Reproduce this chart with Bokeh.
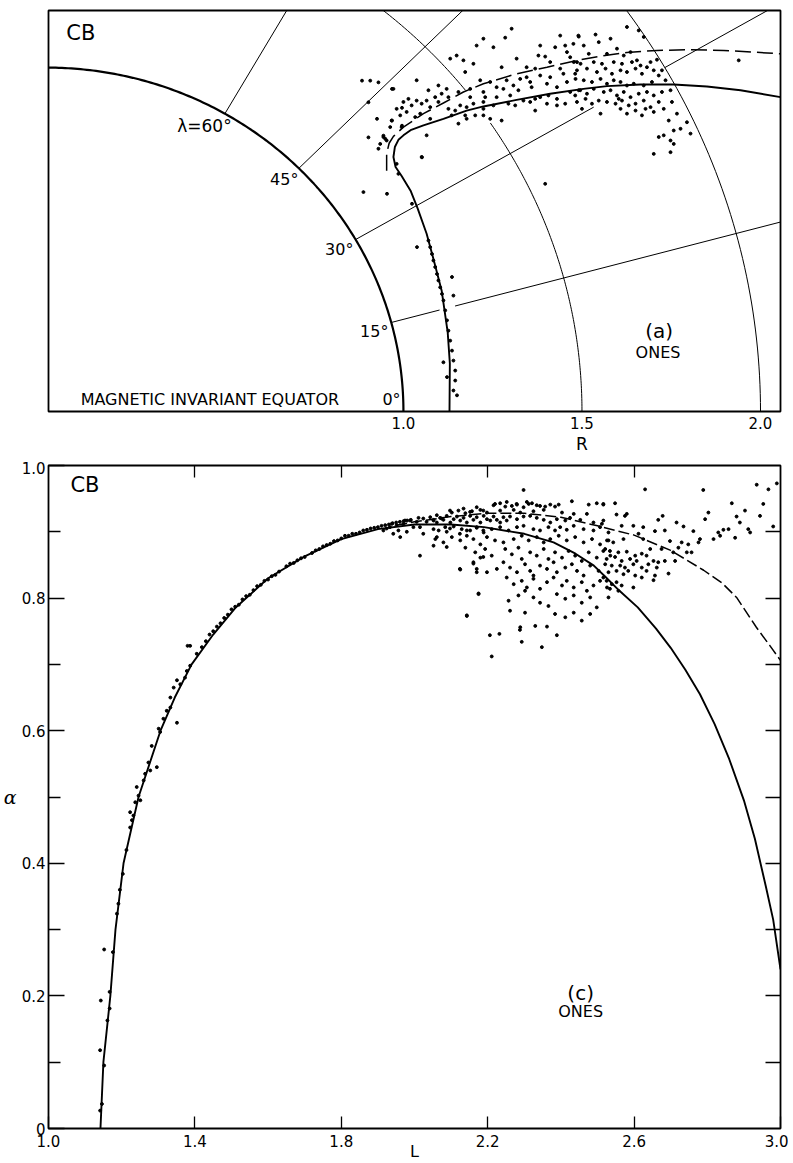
import numpy as np
from bokeh.plotting import figure
from bokeh.models import Range1d, FixedTicker, LinearAxis, Label, PrintfTickFormatter
from bokeh.layouts import column
from bokeh.embed import file_html
from bokeh.resources import INLINE

FONT = "DejaVu Sans"

# ---------------- panel (a): meridian plane, R ----------------
r_ticks = [1.0, 1.5, 2.0]
r_label_at = 1.5
earth_r = 1.0
shell_r = [1.5, 2.0]
shell_gaps = {1.5: [(0.0, 34.0), (38.5, 90.0)], 2.0: [(0.0, 90.0)]}
lat_deg = [15, 30, 45, 60]
lat_segments = {15: [(1.0, 1.14), (1.185, 2.6)], 30: [(1.0, 1.77), (2.0, 2.6)],
                45: [(1.0, 2.6)], 60: [(1.0, 2.6)]}

a_solid_x = [1.129, 1.130, 1.124, 1.107, 1.085, 1.065, 1.040, 1.020, 0.995, 0.978, 0.972,
             0.976, 0.986, 1.000, 1.020, 1.056, 1.112, 1.177, 1.224, 1.317, 1.411, 1.504,
             1.570, 1.664, 1.757, 1.850, 1.944, 2.056]
a_solid_z = [0.000, 0.140, 0.230, 0.352, 0.440, 0.517, 0.590, 0.642, 0.685, 0.711, 0.740,
             0.769, 0.790, 0.803, 0.818, 0.832, 0.851, 0.875, 0.887, 0.906, 0.924, 0.938,
             0.946, 0.951, 0.951, 0.945, 0.934, 0.914]
a_dash_x = [0.953, 0.953, 0.960, 0.972, 1.000, 1.056, 1.112, 1.168, 1.224, 1.317, 1.402,
            1.486, 1.552, 1.626, 1.710, 1.804, 1.897, 1.981, 2.056]
a_dash_z = [0.700, 0.750, 0.780, 0.800, 0.827, 0.866, 0.897, 0.929, 0.953, 0.982, 1.001,
            1.021, 1.033, 1.044, 1.050, 1.052, 1.050, 1.045, 1.040]

a_points = [
    (0.884, 0.962), (0.907, 0.962), (0.930, 0.957), (0.968, 0.938), (0.902, 0.899), (0.996, 0.883),
    (0.926, 0.851), (0.968, 0.846), (0.996, 0.831), (0.902, 0.797), (0.944, 0.802), (0.935, 0.778),
    (0.930, 0.764), (0.949, 0.793), (0.888, 0.638), (0.954, 0.633), (0.986, 0.691),
    (1.303, 1.113), (1.439, 1.093), (1.490, 1.093), (1.224, 1.084), (1.285, 1.087), (1.205, 1.064),
    (1.252, 1.059), (1.383, 1.064), (1.425, 1.059), (1.453, 1.064), (1.476, 1.069), (1.458, 1.045),
    (1.131, 1.026), (1.149, 1.035), (1.168, 1.021), (1.196, 1.011), (1.317, 1.026), (1.378, 1.035),
    (1.397, 1.032), (1.467, 1.030), (1.411, 1.016), (1.275, 1.001), (1.345, 1.001), (1.369, 0.997),
    (1.439, 0.997), (1.486, 1.016), (1.173, 0.987), (1.448, 0.982), (1.481, 0.982), (1.037, 0.963),
    (1.215, 0.963), (1.243, 0.958), (1.289, 0.963), (1.327, 0.967), (1.345, 0.972), (1.355, 0.958),
    (1.383, 0.977), (1.411, 0.972), (1.458, 0.958), (1.070, 0.934), (1.098, 0.948), (1.121, 0.938),
    (1.154, 0.929), (1.187, 0.938), (1.224, 0.929), (1.261, 0.943), (1.280, 0.938), (1.308, 0.948),
    (1.322, 0.934), (1.359, 0.943), (1.402, 0.953), (1.430, 0.943), (1.467, 0.929), (1.495, 0.934),
    (0.972, 0.938), (1.014, 0.909), (1.000, 0.900), (1.037, 0.904), (1.065, 0.904), (1.089, 0.914),
    (1.107, 0.924), (1.126, 0.914), (1.187, 0.914), (1.229, 0.914), (1.261, 0.914), (1.299, 0.919),
    (1.336, 0.904), (1.369, 0.909), (1.383, 0.914), (1.406, 0.919), (1.430, 0.909), (1.481, 0.919),
    (0.981, 0.880), (1.023, 0.890), (1.051, 0.895), (1.075, 0.885), (1.098, 0.900), (1.126, 0.880),
    (1.145, 0.875), (1.159, 0.890), (1.177, 0.885), (1.196, 0.895), (1.224, 0.880), (1.252, 0.890),
    (1.294, 0.895), (1.313, 0.890), (1.355, 0.900), (1.369, 0.875), (1.402, 0.895), (1.430, 0.890),
    (1.453, 0.895), (0.967, 0.846), (0.991, 0.861), (1.009, 0.871), (1.033, 0.856), (1.047, 0.866),
    (1.075, 0.851), (1.135, 0.861), (1.173, 0.861), (1.201, 0.861), (1.224, 0.861), (1.243, 0.851),
    (1.275, 0.846), (0.963, 0.827), (0.995, 0.827), (1.065, 0.803), (1.154, 0.837), (0.944, 0.798),
    (0.953, 0.788), (0.981, 0.720), (1.051, 0.740), (1.224, 0.900), (1.177, 0.851),
    (1.626, 1.118), (1.659, 1.108), (1.491, 1.090), (1.538, 1.096), (1.580, 1.084), (1.673, 1.089),
    (1.505, 1.064), (1.547, 1.074), (1.598, 1.055), (1.519, 1.040), (1.570, 1.040), (1.617, 1.035),
    (1.636, 1.045), (1.654, 1.021), (1.692, 1.016), (1.710, 1.023), (1.477, 1.016), (1.496, 1.011),
    (1.533, 1.016), (1.556, 1.011), (1.589, 1.016), (1.612, 1.011), (1.640, 1.016), (1.664, 1.006),
    (1.682, 1.001), (1.701, 0.992), (1.724, 0.992), (1.486, 0.992), (1.514, 0.997), (1.542, 0.987),
    (1.566, 0.997), (1.584, 0.982), (1.608, 0.992), (1.626, 0.987), (1.650, 0.997), (1.668, 0.982),
    (1.715, 0.977), (1.734, 0.963), (1.482, 0.967), (1.505, 0.963), (1.528, 0.958), (1.552, 0.967),
    (1.570, 0.953), (1.589, 0.963), (1.608, 0.958), (1.626, 0.948), (1.645, 0.953), (1.673, 0.948),
    (1.696, 0.958), (1.491, 0.934), (1.514, 0.924), (1.533, 0.938), (1.561, 0.929), (1.580, 0.934),
    (1.598, 0.919), (1.617, 0.929), (1.636, 0.914), (1.659, 0.924), (1.682, 0.929), (1.701, 0.919),
    (1.724, 0.929), (1.748, 0.934), (1.486, 0.900), (1.510, 0.909), (1.528, 0.895), (1.547, 0.904),
    (1.570, 0.900), (1.594, 0.895), (1.612, 0.904), (1.631, 0.890), (1.650, 0.895), (1.673, 0.904),
    (1.692, 0.885), (1.715, 0.900), (1.752, 0.900), (1.500, 0.880), (1.552, 0.866), (1.608, 0.880),
    (1.626, 0.866), (1.650, 0.875), (1.668, 0.861), (1.701, 0.871), (1.729, 0.880), (1.766, 0.866),
    (1.743, 0.846), (1.757, 0.817), (1.776, 0.822), (1.794, 0.841), (1.804, 0.808), (1.715, 0.798),
    (1.729, 0.803), (1.748, 0.788), (1.757, 0.778), (1.701, 0.749), (1.748, 0.754), (1.939, 1.021),
    (1.678, 0.880), (1.603, 0.909), (1.397, 0.662),
    (1.070, 0.497), (1.075, 0.478), (1.080, 0.458), (1.084, 0.439), (1.089, 0.420), (1.094, 0.400),
    (1.098, 0.381), (1.103, 0.361), (1.108, 0.342), (1.112, 0.323), (1.117, 0.294), (1.122, 0.265),
    (1.126, 0.235), (1.131, 0.206), (1.136, 0.177), (1.140, 0.148), (1.145, 0.119), (1.145, 0.090),
    (1.038, 0.478), (1.136, 0.391), (1.140, 0.337), (1.122, 0.100), (1.112, 0.143), (1.140, 0.061),
    (1.150, 0.047), (1.024, 0.604), (1.052, 0.739),
]

# ---------------- panel (c): alpha vs L ----------------
L_ticks = [1.0, 1.4, 1.8, 2.2, 2.6, 3.0]
L_inner_ticks = [1.4, 1.8, 2.2, 2.6]
a_major = [0.0, 0.2, 0.4, 0.6, 0.8, 1.0]
a_minor = [0.1, 0.3, 0.5, 0.7, 0.9]

c_solid_L = [1.142, 1.150, 1.169, 1.183, 1.205, 1.246, 1.306, 1.345, 1.391, 1.450, 1.510,
             1.600, 1.700, 1.800, 1.900, 2.000, 2.100, 2.190, 2.300, 2.380, 2.440, 2.490,
             2.520, 2.560, 2.610, 2.660, 2.700, 2.740, 2.780, 2.820, 2.860, 2.900, 2.930,
             2.960, 2.980, 3.000]
c_solid_a = [0.000, 0.100, 0.200, 0.300, 0.400, 0.500, 0.600, 0.650, 0.700, 0.745, 0.785,
             0.830, 0.863, 0.889, 0.904, 0.911, 0.911, 0.907, 0.897, 0.884, 0.867, 0.849,
             0.833, 0.811, 0.786, 0.754, 0.725, 0.692, 0.655, 0.610, 0.557, 0.495, 0.437,
             0.365, 0.315, 0.240]
c_dash_L = [1.950, 2.000, 2.100, 2.200, 2.300, 2.400, 2.500, 2.600, 2.700, 2.790, 2.840,
            2.880, 2.934, 2.970, 3.000]
c_dash_a = [0.910, 0.915, 0.923, 0.928, 0.928, 0.922, 0.909, 0.895, 0.872, 0.842, 0.823,
            0.801, 0.756, 0.729, 0.706]

c_points = [
    (1.141, 0.027), (1.146, 0.037), (1.141, 0.118), (1.152, 0.095), (1.143, 0.193), (1.167, 0.206),
    (1.167, 0.181), (1.161, 0.163), (1.152, 0.270), (1.176, 0.266), (1.187, 0.324), (1.191, 0.339),
    (1.203, 0.384), (1.223, 0.454), (1.228, 0.465), (1.223, 0.477), (1.232, 0.472), (1.237, 0.492),
    (1.241, 0.515), (1.251, 0.495), (1.260, 0.525), (1.264, 0.535), (1.278, 0.540), (1.273, 0.552),
    (1.282, 0.577), (1.296, 0.545), (1.301, 0.603), (1.305, 0.598), (1.314, 0.618), (1.323, 0.630),
    (1.333, 0.635), (1.333, 0.650), (1.342, 0.665), (1.351, 0.676), (1.360, 0.670), (1.373, 0.680),
    (1.378, 0.690), (1.387, 0.698), (1.387, 0.728), (1.405, 0.716), (1.419, 0.726), (1.351, 0.612),
    (1.246, 0.502), (1.380, 0.728), (1.195, 0.360), (1.213, 0.420),
    (1.43, 0.735), (1.45, 0.750), (1.46, 0.757), (1.48, 0.770), (1.49, 0.775), (1.50, 0.783),
    (1.52, 0.790), (1.53, 0.798), (1.55, 0.805), (1.56, 0.812), (1.58, 0.820), (1.60, 0.828),
    (1.62, 0.835), (1.63, 0.840), (1.65, 0.848), (1.67, 0.853), (1.68, 0.857), (1.70, 0.862),
    (1.72, 0.868), (1.74, 0.874), (1.75, 0.878), (1.77, 0.882), (1.79, 0.887), (1.80, 0.890),
    (1.82, 0.894), (1.84, 0.897), (1.85, 0.899), (1.87, 0.903), (1.88, 0.905), (1.90, 0.907),
    (1.91, 0.909), (1.93, 0.911), (1.94, 0.913), (1.96, 0.915), (1.97, 0.916), (1.99, 0.918),
    (1.44, 0.745), (1.47, 0.762), (1.51, 0.787), (1.54, 0.803), (1.57, 0.818), (1.59, 0.826),
    (1.61, 0.833), (1.66, 0.852), (1.69, 0.860), (1.73, 0.872), (1.76, 0.880), (1.78, 0.886),
    (1.81, 0.894), (1.83, 0.897), (1.86, 0.902), (1.89, 0.906), (1.92, 0.910), (1.95, 0.914),
    (1.98, 0.917),
    (1.915, 0.902), (1.933, 0.907), (1.951, 0.910), (1.970, 0.912), (1.988, 0.917), (2.006, 0.915),
    (2.024, 0.920), (2.043, 0.922), (1.942, 0.897), (1.979, 0.900), (2.015, 0.907), (1.961, 0.892),
    (2.015, 0.864), (2.052, 0.879), (2.088, 0.877), (2.124, 0.844), (2.143, 0.774), (2.175, 0.807),
    (2.161, 0.852), (2.170, 0.839), (2.188, 0.862), (2.211, 0.712), (2.206, 0.744), (2.232, 0.746),
    (2.288, 0.752), (2.293, 0.734), (2.348, 0.726), (2.389, 0.744),
    (1.924, 0.905), (1.956, 0.902), (1.997, 0.907), (2.033, 0.915), (1.974, 0.917), (1.938, 0.912),
    (2.011, 0.921), (2.052, 0.917), (2.074, 0.920), (2.024, 0.897), (2.061, 0.892), (2.097, 0.905),
    (2.124, 0.897), (2.143, 0.902), (2.170, 0.907), (2.188, 0.902), (2.088, 0.900),
    (2.061, 0.925), (2.097, 0.932), (2.134, 0.935), (2.152, 0.930), (2.188, 0.932), (2.216, 0.940),
    (2.234, 0.943), (2.252, 0.945), (2.279, 0.942), (2.307, 0.945), (2.334, 0.940),
    (2.298, 0.963),
    (2.170, 0.937), (2.220, 0.942), (2.248, 0.938), (2.266, 0.939), (2.280, 0.941), (2.298, 0.937),
    (2.312, 0.942), (2.321, 0.943), (2.343, 0.939), (2.357, 0.938), (2.371, 0.941), (2.384, 0.938),
    (2.394, 0.941), (2.430, 0.946), (2.476, 0.941), (2.498, 0.943), (2.516, 0.941),
    (2.102, 0.929), (2.120, 0.932), (2.139, 0.928), (2.157, 0.931), (2.180, 0.933), (2.198, 0.929),
    (2.234, 0.932), (2.271, 0.933), (2.289, 0.929), (2.325, 0.931), (2.353, 0.933), (2.471, 0.927),
    (2.435, 0.927), (2.403, 0.929),
    (2.052, 0.918), (2.061, 0.914), (2.070, 0.921), (2.079, 0.918), (2.088, 0.924), (2.098, 0.914),
    (2.107, 0.919), (2.116, 0.923), (2.125, 0.917), (2.134, 0.921), (2.143, 0.914), (2.152, 0.924),
    (2.161, 0.918), (2.170, 0.922), (2.180, 0.914), (2.189, 0.924), (2.198, 0.919), (2.207, 0.917),
    (2.216, 0.923), (2.225, 0.918), (2.234, 0.914), (2.243, 0.922), (2.252, 0.917), (2.261, 0.923),
    (2.280, 0.919), (2.298, 0.923), (2.316, 0.924), (2.334, 0.921), (2.353, 0.918), (2.371, 0.914),
    (2.389, 0.919), (2.412, 0.917), (2.425, 0.921), (2.453, 0.918), (2.489, 0.914), (2.512, 0.912),
    (2.052, 0.904), (2.066, 0.902), (2.084, 0.907), (2.107, 0.908), (2.129, 0.904), (2.152, 0.902),
    (2.170, 0.906), (2.189, 0.899), (2.211, 0.904), (2.234, 0.907), (2.257, 0.902), (2.280, 0.907),
    (2.298, 0.909), (2.325, 0.904), (2.343, 0.902), (2.366, 0.907), (2.384, 0.902), (2.398, 0.907),
    (2.416, 0.903), (2.435, 0.909), (2.462, 0.904), (2.489, 0.902), (2.507, 0.907), (2.530, 0.899),
    (2.057, 0.889), (2.079, 0.884), (2.102, 0.892), (2.125, 0.887), (2.143, 0.894), (2.161, 0.889),
    (2.180, 0.881), (2.198, 0.892), (2.220, 0.887), (2.243, 0.884), (2.271, 0.889), (2.293, 0.894),
    (2.312, 0.887), (2.334, 0.892), (2.353, 0.884), (2.371, 0.889), (2.394, 0.894), (2.416, 0.887),
    (2.439, 0.892), (2.462, 0.884), (2.485, 0.889), (2.507, 0.881), (2.526, 0.887),
    (2.139, 0.876), (2.166, 0.869), (2.180, 0.861), (2.193, 0.874), (2.211, 0.864), (2.248, 0.874),
    (2.266, 0.866), (2.284, 0.876), (2.293, 0.859), (2.316, 0.869), (2.334, 0.864), (2.353, 0.874),
    (2.366, 0.859), (2.384, 0.869), (2.403, 0.861), (2.421, 0.871), (2.439, 0.864), (2.457, 0.856),
    (2.476, 0.869), (2.498, 0.861), (2.516, 0.871), (2.535, 0.864),
    (2.161, 0.854), (2.170, 0.844), (2.198, 0.839), (2.225, 0.844), (2.243, 0.854), (2.261, 0.846),
    (2.280, 0.839), (2.302, 0.851), (2.316, 0.841), (2.325, 0.834), (2.343, 0.849), (2.362, 0.844),
    (2.380, 0.854), (2.389, 0.839), (2.412, 0.846), (2.430, 0.851), (2.444, 0.841), (2.462, 0.834),
    (2.480, 0.849), (2.503, 0.841), (2.521, 0.851),
    (2.252, 0.831), (2.271, 0.821), (2.293, 0.826), (2.307, 0.816), (2.325, 0.829), (2.343, 0.814),
    (2.362, 0.824), (2.380, 0.831), (2.403, 0.819), (2.416, 0.826), (2.435, 0.816), (2.457, 0.824),
    (2.471, 0.811), (2.489, 0.819), (2.507, 0.826), (2.526, 0.816),
    (2.125, 0.843), (2.175, 0.806), (2.257, 0.796), (2.284, 0.804), (2.302, 0.811), (2.325, 0.801),
    (2.343, 0.793), (2.366, 0.788), (2.389, 0.806), (2.412, 0.799), (2.435, 0.804), (2.457, 0.793),
    (2.480, 0.801), (2.498, 0.786),
    (2.143, 0.773), (2.261, 0.781), (2.289, 0.756), (2.302, 0.778), (2.330, 0.758), (2.362, 0.757),
    (2.384, 0.776), (2.412, 0.771), (2.435, 0.778), (2.457, 0.766), (2.480, 0.776),
    (2.630, 0.964), (2.789, 0.963), (2.935, 0.971), (2.967, 0.964), (2.990, 0.973), (2.516, 0.942),
    (2.548, 0.943), (2.867, 0.943), (2.953, 0.942), (2.552, 0.926), (2.575, 0.924), (2.580, 0.927),
    (2.666, 0.918), (2.678, 0.924), (2.803, 0.929), (2.794, 0.919), (2.880, 0.923), (2.903, 0.932),
    (2.944, 0.924), (2.889, 0.914), (2.516, 0.917), (2.566, 0.909), (2.598, 0.909), (2.625, 0.907),
    (2.684, 0.902), (2.716, 0.914), (2.735, 0.908), (2.762, 0.901), (2.657, 0.901), (2.912, 0.904),
    (2.917, 0.899), (2.844, 0.903), (2.858, 0.904), (2.830, 0.899), (2.817, 0.889), (2.835, 0.894),
    (2.876, 0.891), (2.980, 0.908), (2.612, 0.897), (2.530, 0.887), (2.543, 0.884), (2.571, 0.889),
    (2.625, 0.889), (2.698, 0.886), (2.730, 0.884), (2.748, 0.881), (2.776, 0.884), (2.780, 0.889),
    (2.521, 0.874), (2.534, 0.871), (2.557, 0.869), (2.580, 0.870), (2.603, 0.864), (2.621, 0.867),
    (2.644, 0.874), (2.675, 0.874), (2.707, 0.869), (2.721, 0.876), (2.744, 0.869), (2.757, 0.869),
    (2.525, 0.859), (2.548, 0.862), (2.566, 0.856), (2.589, 0.859), (2.607, 0.856), (2.634, 0.864),
    (2.653, 0.856), (2.666, 0.854), (2.684, 0.856), (2.712, 0.856), (2.539, 0.849), (2.562, 0.849),
    (2.575, 0.846), (2.598, 0.851), (2.621, 0.846), (2.639, 0.851), (2.662, 0.846), (2.694, 0.837),
    (2.530, 0.839), (2.552, 0.841), (2.571, 0.836), (2.584, 0.841), (2.603, 0.834), (2.621, 0.831),
    (2.634, 0.841), (2.657, 0.834), (2.516, 0.831), (2.525, 0.826), (2.539, 0.821), (2.552, 0.824),
    (2.566, 0.819), (2.534, 0.814), (2.557, 0.811), (2.530, 0.801), (2.598, 0.816), (2.653, 0.827),
]

# ======================= figure (a) =======================
p1 = figure(frame_width=732, frame_height=401, x_range=Range1d(0.006, 2.056),
            y_range=Range1d(0.0, 1.166), output_backend="svg", toolbar_location=None,
            min_border_left=45, min_border_right=8, min_border_top=10, min_border_bottom=50)
p1.xgrid.visible = False
p1.ygrid.visible = False
p1.yaxis.visible = False
p1.outline_line_color = "black"
p1.outline_line_width = 1.8
xa = p1.xaxis[0]
xa.ticker = FixedTicker(ticks=r_ticks)
xa.formatter = PrintfTickFormatter(format="%.1f")
xa.axis_line_color = None
xa.major_tick_line_color = None
xa.minor_tick_line_color = None
xa.major_label_standoff = -1
xa.major_label_text_font = FONT
xa.major_label_text_font_size = "15px"
xa.major_label_text_color = "black"

# the "R" title sits under the 1.5 mark: a second, label-only axis stacked below
ra = LinearAxis(ticker=FixedTicker(ticks=[r_label_at]), major_label_overrides={r_label_at: "R"},
                axis_line_color=None, major_tick_line_color=None, minor_tick_line_color=None,
                major_label_standoff=-4, major_label_text_font=FONT,
                major_label_text_font_size="17px", major_label_text_color="black")
p1.add_layout(ra, "below")

th = np.radians(np.linspace(0, 90, 181))
p1.line(earth_r * np.cos(th), earth_r * np.sin(th), line_color="black", line_width=2.2)
xs, ys = [], []
for r in shell_r:
    for a0, a1 in shell_gaps[r]:
        t = np.radians(np.linspace(a0, a1, 120))
        xs.append(list(r * np.cos(t)))
        ys.append(list(r * np.sin(t)))
for lat in lat_deg:
    c, s = np.cos(np.radians(lat)), np.sin(np.radians(lat))
    for r0, r1 in lat_segments[lat]:
        xs.append([r0 * c, r1 * c])
        ys.append([r0 * s, r1 * s])
p1.multi_line(xs, ys, line_color="black", line_width=1.0)

p1.line(a_solid_x, a_solid_z, line_color="black", line_width=1.9)
p1.line(a_dash_x, a_dash_z, line_color="black", line_width=1.5, line_dash="16 6")
ax_, az_ = zip(*a_points)
p1.scatter(list(ax_), list(az_), size=2.9, color="black")


def lab(p, x, y, text, size, align="left", base="middle", font=FONT, style="normal", **kw):
    p.add_layout(Label(x=x, y=y, text=text, text_font=font, text_font_size=size,
                       text_align=align, text_baseline=base, text_color="black",
                       text_font_style=style, **kw))


lab(p1, 0.056, 1.102, "CB", "21px")
lab(p1, 0.519, 0.830, "λ=60°", "17px", align="right")
lab(p1, 0.706, 0.674, "45°", "16px", align="right")
lab(p1, 0.860, 0.471, "30°", "16px", align="right")
lab(p1, 0.958, 0.233, "15°", "16px", align="right")
lab(p1, 0.992, 0.035, "0°", "16px", align="right")
lab(p1, 0.096, 0.035, "MAGNETIC INVARIANT EQUATOR", "16px")
lab(p1, 1.716, 0.233, "(a)", "20px", align="center")
lab(p1, 1.713, 0.172, "ONES", "16px", align="center")

# ======================= figure (c) =======================
p2 = figure(frame_width=732, frame_height=663, x_range=Range1d(1.0, 3.0),
            y_range=Range1d(0.0, 1.0), output_backend="svg", toolbar_location=None,
            min_border_left=45, min_border_right=8, min_border_top=4, min_border_bottom=35)
p2.xgrid.visible = False
p2.ygrid.visible = False
p2.outline_line_color = "black"
p2.outline_line_width = 1.8

bx = p2.xaxis[0]
bx.ticker = FixedTicker(ticks=L_ticks)
bx.formatter = PrintfTickFormatter(format="%.1f")
bx.axis_line_color = None
bx.major_tick_in = 12
bx.major_tick_out = 0
bx.major_tick_line_width = 1.3
bx.minor_tick_line_color = None
bx.major_label_standoff = 6
bx.major_label_text_font = FONT
bx.major_label_text_font_size = "15px"
bx.major_label_text_color = "black"
bx.axis_label = "L"
bx.axis_label_standoff = -8
bx.axis_label_text_font = FONT
bx.axis_label_text_font_style = "normal"
bx.axis_label_text_font_size = "16px"
bx.axis_label_text_color = "black"

ly = p2.yaxis[0]
ly.ticker = FixedTicker(ticks=a_major, minor_ticks=a_minor)
ly.formatter = PrintfTickFormatter(format="%.1f")
ly.axis_line_color = None
ly.major_tick_in = 16
ly.major_tick_out = 0
ly.minor_tick_in = 12
ly.minor_tick_out = 0
ly.major_tick_line_width = 1.3
ly.minor_tick_line_width = 1.3
ly.major_label_standoff = 3
ly.major_label_text_font = FONT
ly.major_label_text_font_size = "15px"
ly.major_label_text_color = "black"
ly.major_label_overrides = {0: "0"}
ly.axis_label = "α"
ly.axis_label_orientation = "horizontal"
ly.axis_label_standoff = 2
ly.axis_label_text_font = "DejaVu Serif"
ly.axis_label_text_font_style = "italic"
ly.axis_label_text_font_size = "19px"
ly.axis_label_text_color = "black"

ry = LinearAxis(ticker=FixedTicker(ticks=a_minor + a_major[1:-1]), axis_line_color=None,
                major_tick_in=15, major_tick_out=0, major_tick_line_width=1.3,
                minor_tick_line_color=None, major_label_text_color=None,
                major_label_text_font_size="1px", major_label_standoff=0)
p2.add_layout(ry, "right")
tx = LinearAxis(ticker=FixedTicker(ticks=L_inner_ticks), axis_line_color=None,
                major_tick_in=12, major_tick_out=0, major_tick_line_width=1.3,
                minor_tick_line_color=None, major_label_text_color=None,
                major_label_text_font_size="1px", major_label_standoff=0)
p2.add_layout(tx, "above")

p2.line(c_solid_L, c_solid_a, line_color="black", line_width=1.9)
p2.line(c_dash_L, c_dash_a, line_color="black", line_width=1.5, line_dash="11 4")
cx_, cy_ = zip(*c_points)
p2.scatter(list(cx_), list(cy_), size=2.9, color="black")

lab(p2, 1.060, 0.970, "CB", "21px")
lab(p2, 2.454, 0.205, "(c)", "20px", align="center")
lab(p2, 2.454, 0.177, "ONES", "16px", align="center")

layout = column(p1, p2)
open("out.html", "w").write(file_html(layout, INLINE))
